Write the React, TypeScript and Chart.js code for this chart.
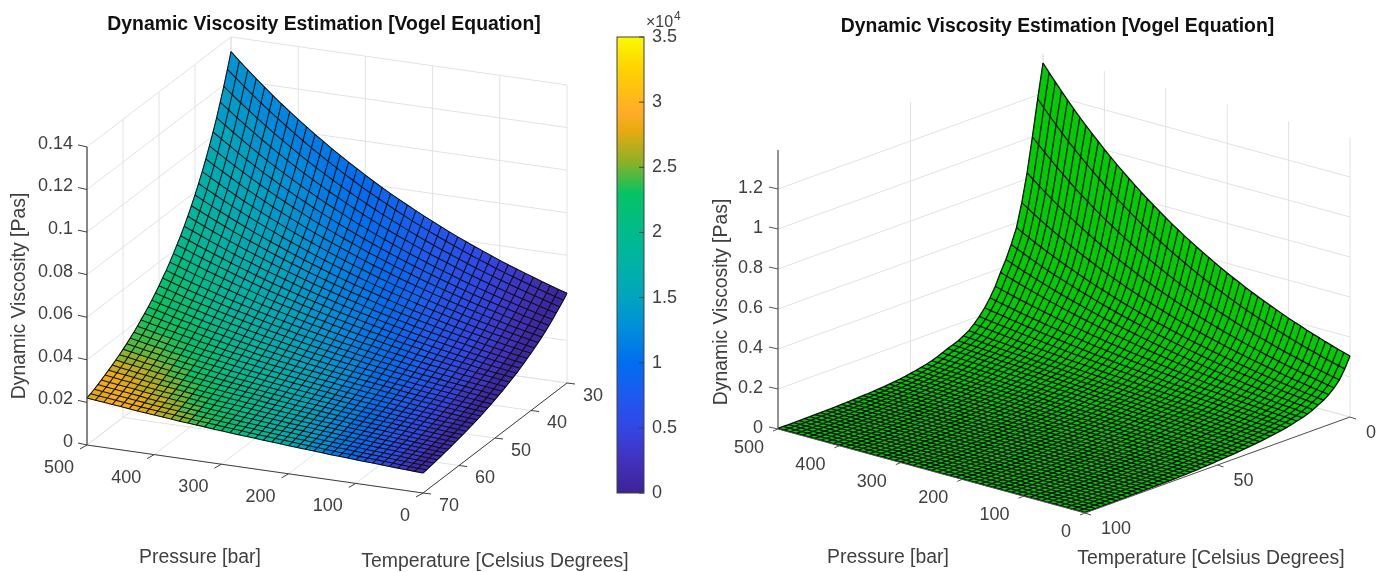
import React, { useEffect, useRef } from "react";
import { Chart, registerables } from "chart.js";
Chart.register(...registerables);

const titleText = "Dynamic Viscosity Estimation [Vogel Equation]";
const zAxisTitle = "Dynamic Viscosity [Pas]";
const pressureTitle = "Pressure [bar]";
const temperatureTitle = "Temperature [Celsius Degrees]";

const leftPressureTicks = [0, 100, 200, 300, 400, 500];
const leftTemperatureTicks = [30, 40, 50, 60, 70];
const leftZTicks = [0, 0.02, 0.04, 0.06, 0.08, 0.1, 0.12, 0.14];
const rightPressureTicks = [0, 100, 200, 300, 400, 500];
const rightTemperatureTicks = [0, 50, 100];
const rightZTicks = [0, 0.2, 0.4, 0.6, 0.8, 1, 1.2];
const colorbarTicks = [0, 0.5, 1, 1.5, 2, 2.5, 3, 3.5];

const leftPressures = [500,487.5,475,462.5,450,437.5,425,412.5,400,387.5,375,362.5,350,337.5,325,312.5,300,287.5,275,262.5,250,237.5,225,212.5,200,187.5,175,162.5,150,137.5,125,112.5,100,87.5,75,62.5,50,37.5,25,12.5,0];
const leftTemperatures = [30,31,32,33,34,35,36,37,38,39,40,41,42,43,44,45,46,47,48,49,50,51,52,53,54,55,56,57,58,59,60,61,62,63,64,65,66,67,68,69,70];
// viscosity in 1e-4 Pa·s: one row per temperature, one value per pressure
const leftViscosity = [
[1331,1293,1257,1221,1187,1153,1120,1089,1058,1028,999,971,943,917,891,866,841,817,794,771,750,729,708,688,669,650,631,613,596,579,563,547,531,516,502,488,474,460,447,434,422],
[1261,1226,1192,1158,1126,1094,1063,1034,1004,976,948,922,896,871,846,823,799,777,755,734,713,693,673,654,636,618,601,584,567,551,536,521,506,492,478,465,452,439,426,414,402],
[1194,1161,1128,1097,1066,1036,1007,979,952,925,899,874,850,826,803,781,759,738,717,697,678,659,640,622,605,588,572,556,540,525,510,496,482,469,456,443,431,419,407,395,384],
[1133,1102,1071,1041,1012,984,956,930,904,879,854,831,808,785,764,743,722,702,682,663,645,627,610,593,576,560,545,530,515,500,486,473,460,447,435,423,411,400,388,377,367],
[1072,1043,1014,986,959,932,906,881,857,833,810,788,766,745,725,705,685,666,648,630,613,596,579,563,548,533,518,504,490,476,463,450,438,426,414,403,392,381,370,360,350],
[1018,991,964,937,911,886,861,838,815,792,771,750,729,709,690,671,653,635,617,600,584,568,552,537,523,508,494,481,468,455,442,430,418,407,396,385,374,364,354,344,335],
[966,940,914,889,865,841,818,796,774,753,733,713,693,674,656,638,621,604,587,571,556,541,526,512,498,484,471,458,446,434,422,410,399,388,378,367,357,347,338,329,320],
[917,893,869,846,823,800,779,758,737,717,698,679,660,642,625,608,592,576,560,545,530,516,502,488,475,462,450,437,426,414,403,392,381,371,361,351,342,332,323,315,306],
[871,848,825,803,781,760,740,720,701,682,663,645,628,611,595,579,563,548,533,519,505,491,478,465,453,441,429,417,406,395,385,374,364,354,345,336,327,318,309,301,293],
[828,806,785,764,744,724,705,686,668,650,632,615,599,583,567,552,537,523,509,495,482,469,457,444,433,421,410,399,388,378,368,358,348,339,330,321,313,304,296,288,281],
[787,766,746,726,707,688,670,652,635,618,602,586,570,555,540,526,512,498,485,472,460,448,436,424,413,402,391,381,371,361,351,342,333,324,316,307,299,291,283,276,269],
[749,730,711,692,674,656,639,622,606,590,574,559,544,530,516,502,489,476,464,451,440,428,417,405,395,384,374,364,355,345,336,327,319,310,302,294,286,279,271,264,258],
[713,694,676,658,641,624,608,592,577,562,547,533,519,505,492,479,467,455,443,431,420,409,398,387,377,367,358,348,339,330,322,313,305,297,289,281,274,267,260,253,247],
[679,662,645,628,612,596,580,565,551,536,522,509,496,483,470,458,446,435,423,412,402,391,381,371,361,352,343,333,325,316,308,300,292,285,277,270,263,256,249,243,237],
[647,630,614,598,583,568,553,539,525,511,498,485,473,461,449,437,426,415,404,394,384,374,364,355,346,337,328,319,311,303,295,287,280,273,266,259,252,245,239,233,227],
[618,602,586,571,557,543,529,515,502,489,476,464,452,441,430,418,408,397,387,377,368,358,349,340,332,323,315,306,299,291,283,276,269,262,256,249,242,236,230,224,219],
[589,574,559,545,531,518,505,492,479,467,455,443,432,421,411,400,390,380,371,361,352,343,334,326,318,310,302,294,287,279,272,265,259,252,246,239,233,227,222,216,211],
[562,548,534,520,507,495,482,470,458,446,435,424,413,403,393,383,373,364,355,346,337,329,320,312,305,297,289,282,275,267,261,254,248,242,236,229,224,218,213,207,202],
[536,522,509,496,484,472,460,448,437,426,416,405,395,385,376,366,357,348,340,331,323,315,307,299,292,284,277,270,263,256,250,244,238,232,226,220,215,210,205,199,194],
[513,500,487,475,463,452,441,429,419,408,399,388,379,369,360,351,342,334,326,317,310,302,295,287,280,273,266,260,253,246,240,234,229,223,217,212,207,202,197,191,187],
[490,478,466,454,443,432,422,411,401,391,382,372,363,354,345,337,328,320,312,304,297,290,283,276,269,262,256,250,243,237,231,225,220,214,209,204,199,194,189,184,180],
[469,457,446,435,424,414,404,394,384,375,366,356,348,339,331,323,315,307,299,292,285,278,271,265,258,252,246,240,233,228,222,216,211,206,201,196,191,186,182,177,173],
[448,437,426,416,406,396,386,377,368,359,350,341,333,325,317,310,302,295,287,280,273,266,260,254,248,242,236,230,224,219,214,208,203,198,194,189,184,179,175,171,167],
[429,419,409,399,389,380,370,361,353,344,336,327,320,312,304,297,290,283,276,269,263,256,250,244,238,232,227,221,216,211,206,200,196,191,187,182,177,173,169,165,161],
[411,401,392,382,373,364,355,346,338,330,322,314,307,299,292,285,278,272,265,259,253,247,241,235,229,223,218,213,208,203,198,193,189,184,180,175,171,167,163,159,155],
[394,384,375,366,358,349,341,332,324,317,309,302,295,287,281,274,267,261,255,249,243,237,232,226,220,215,210,205,200,195,191,186,182,177,173,169,165,161,157,153,150],
[377,368,359,351,343,335,327,319,311,304,297,290,283,276,270,263,257,251,245,240,234,228,223,217,212,207,202,197,193,188,184,179,175,171,167,163,159,155,152,148,145],
[362,353,345,337,329,321,314,306,299,292,285,278,272,265,259,253,247,241,236,230,225,219,214,209,204,199,195,190,186,181,177,173,169,165,161,157,153,150,147,143,140],
[347,339,331,323,316,308,301,294,287,280,274,267,261,255,249,244,238,232,227,221,216,211,206,201,197,192,188,183,179,175,171,167,163,159,156,152,148,145,142,138,135],
[333,326,318,311,304,296,290,283,276,270,264,257,251,245,240,235,229,224,219,213,208,203,199,194,190,186,181,177,173,169,165,161,158,154,151,147,143,140,137,134,131],
[320,313,306,299,292,285,279,272,266,260,254,248,242,236,231,226,221,216,211,206,201,196,192,188,184,180,175,171,167,163,160,156,153,149,146,142,139,136,133,130,127],
[308,301,294,287,281,274,268,262,256,250,245,239,233,228,223,218,213,208,203,199,194,189,185,181,177,173,169,165,161,157,154,151,148,144,141,137,134,131,128,125,123],
[296,289,283,276,270,264,258,252,247,241,236,230,225,220,215,210,206,201,196,192,188,183,179,175,171,167,164,160,156,152,149,146,143,139,136,133,130,127,124,121,119],
[285,278,272,266,260,254,248,243,238,232,227,222,217,212,207,203,198,194,189,185,181,177,173,169,165,161,158,155,151,147,144,141,138,135,132,129,126,123,120,117,115],
[274,268,262,256,250,244,239,234,229,224,219,214,209,204,200,196,191,187,183,179,175,171,167,163,160,156,153,150,146,143,140,137,134,131,128,125,122,119,117,114,112],
[264,258,252,247,241,235,230,225,221,216,211,206,202,197,193,189,184,180,177,173,169,165,161,158,155,151,148,145,141,138,135,132,129,126,124,121,118,115,113,110,108],
[254,248,243,238,233,227,222,217,213,208,204,199,195,190,186,182,178,174,171,167,163,159,156,153,150,146,143,140,137,134,131,128,125,122,120,117,115,112,110,107,105],
[245,239,234,229,224,219,214,209,205,201,197,192,188,184,180,176,172,168,165,161,158,154,151,148,145,141,138,135,132,129,127,124,121,118,116,113,111,108,106,104,102],
[236,231,226,221,216,211,207,202,198,194,190,186,182,178,174,170,167,163,160,156,153,149,146,143,140,137,134,131,128,125,123,120,118,115,113,110,108,105,103,101,99],
[228,223,219,214,209,204,200,196,192,188,184,180,176,172,169,165,162,158,155,151,148,145,142,139,136,133,130,127,124,121,119,117,114,112,110,107,105,102,100,98,96],
[221,216,212,207,203,198,194,190,186,182,178,174,171,167,164,160,157,153,150,147,144,141,138,135,132,129,127,124,121,118,116,114,111,109,107,104,102,100,98,96,94],
];
// colour value in 1e2 units, one block per two mesh cells in each direction
const leftColorValue = [
[130,126,122,118,114,110,105,100,95,90,84,78,72,65,58,50,42,33,23,12,2],
[140,135,131,126,122,117,112,106,101,95,89,83,76,69,62,53,44,35,24,13,2],
[149,144,140,134,129,124,118,112,106,100,94,87,81,73,65,56,47,37,26,14,2],
[159,154,148,143,137,131,125,118,112,106,99,92,85,77,69,59,49,39,27,14,2],
[168,163,157,151,144,138,131,124,117,111,104,97,89,81,72,62,52,41,29,15,2],
[178,172,166,159,152,145,138,130,123,116,109,102,94,85,76,65,54,43,30,16,2],
[187,181,175,167,160,152,144,136,128,121,114,106,98,89,79,68,56,44,31,17,2],
[197,190,184,175,167,159,151,142,134,126,119,111,102,93,83,71,59,46,33,18,2],
[206,200,192,184,175,166,157,148,139,132,124,116,106,97,86,74,61,48,34,18,2],
[216,209,201,192,182,173,164,154,145,137,129,120,111,101,90,77,64,50,36,19,2],
[225,218,210,200,190,180,170,160,150,142,134,125,115,105,93,80,66,52,37,20,2],
[229,225,218,209,199,188,178,168,158,149,140,130,120,109,96,83,68,53,38,21,2],
[232,231,226,217,207,196,186,176,165,156,146,136,124,112,99,85,70,55,39,21,2],
[236,238,234,226,216,205,194,183,173,163,152,141,129,116,102,88,72,56,39,22,2],
[239,245,242,234,224,213,202,191,180,170,158,147,133,120,105,90,74,57,40,22,2],
[243,252,250,243,233,221,210,199,188,177,165,152,138,123,108,93,76,59,41,23,3],
[264,262,260,250,240,229,218,207,195,184,171,157,142,127,111,95,78,60,42,23,3],
[280,273,268,259,250,238,226,215,203,191,177,162,147,131,114,98,79,61,43,24,3],
[290,283,276,268,258,246,234,222,210,198,183,168,151,134,116,100,81,62,43,24,3],
[278,288,284,277,267,254,242,230,218,205,189,173,156,138,119,103,83,64,44,25,3],
[260,285,290,285,275,262,250,238,225,212,195,178,160,142,122,105,85,65,45,25,3],
];

const rightPressures = [500,490,480,470,460,450,440,430,420,410,400,390,380,370,360,350,340,330,320,310,300,290,280,270,260,250,240,230,220,210,200,190,180,170,160,150,140,130,120,110,100,90,80,70,60,50,40,30,20,10,0];
const rightTemperatures = [0,2,4,6,8,10,12,14,16,18,20,22,24,26,28,30,32,34,36,38,40,42,44,46,48,50,52,54,56,58,60,62,64,66,68,70,72,74,76,78,80,82,84,86,88,90,92,94,96,98,100];
// viscosity in 1e-3 Pa·s: one row per temperature, one value per pressure
const rightViscosity = [
[1350,1310,1272,1235,1198,1163,1129,1096,1064,1033,1002,973,944,917,890,864,838,814,790,767,744,722,701,680,661,641,622,604,586,569,552,536,521,505,490,476,462,449,435,423,410,398,387,375,364,354,343,333,323,314,305],
[1180,1144,1109,1075,1042,1010,979,949,920,892,865,838,813,788,764,741,718,696,675,654,634,615,596,578,560,543,526,510,494,479,465,450,437,423,410,398,386,374,362,351,341,330,320,310,301,292,283,274,266,258,250],
[1000,969,939,910,881,854,827,801,776,752,728,706,684,663,642,622,602,583,565,548,531,514,498,482,467,453,439,425,412,399,386,374,363,351,340,330,319,309,300,290,281,272,264,256,248,240,232,225,218,211,205],
[830,805,780,756,733,710,688,667,647,627,608,589,571,554,537,520,504,489,474,459,445,432,418,406,393,381,369,358,347,336,326,316,306,297,288,279,270,262,254,246,239,231,224,217,211,204,198,192,186,180,175],
[690,670,649,630,611,593,575,558,541,525,509,494,479,464,450,437,424,411,399,387,375,364,353,342,332,322,312,303,294,285,276,268,260,252,245,237,230,223,217,210,204,198,192,186,180,175,170,164,159,155,150],
[575,558,542,526,511,496,482,468,454,441,428,416,404,392,381,370,359,349,338,329,319,310,301,292,284,276,268,260,252,245,238,231,224,218,211,205,199,194,188,183,177,172,167,162,158,153,149,144,140,136,132],
[500,486,472,458,445,432,420,408,397,386,375,364,354,344,334,324,315,306,297,289,281,273,265,257,250,243,236,229,223,216,210,204,198,192,187,182,177,172,167,163,158,153,149,145,140,136,133,129,125,122,118],
[435,423,411,399,388,377,366,356,346,336,327,318,309,300,292,283,275,268,260,253,246,239,232,226,219,213,207,201,195,190,184,179,174,169,164,160,155,151,147,142,138,134,131,127,123,120,117,113,110,107,104],
[380,369,359,349,339,330,321,312,303,295,286,278,271,263,256,249,242,235,228,222,216,210,204,198,193,187,182,177,172,167,163,158,154,149,145,141,137,133,130,126,122,119,116,112,109,106,103,101,98,95,92],
[320,311,303,295,287,280,272,265,258,251,244,238,231,225,219,213,207,202,196,191,186,181,176,172,167,163,158,154,150,146,142,138,134,131,127,124,121,118,115,111,108,106,103,100,97,95,92,90,87,85,83],
[272,265,258,252,245,239,233,227,221,215,210,205,199,194,190,185,180,175,171,167,163,159,155,151,147,144,140,136,133,130,127,123,120,117,114,111,109,106,103,101,98,96,93,91,89,86,84,82,80,78,76],
[232,226,221,216,210,205,200,195,191,186,182,177,173,169,165,161,157,153,149,146,142,139,135,132,129,126,123,120,117,114,111,108,106,103,101,98,96,93,91,89,87,85,83,81,79,77,75,73,71,70,68],
[198,193,189,185,181,177,173,169,165,161,158,154,151,147,144,141,138,135,132,129,126,123,120,117,115,112,110,107,105,103,100,98,96,94,92,90,88,86,84,82,80,78,76,75,73,71,70,68,66,64,62],
[170,166,163,159,156,152,149,146,143,140,137,134,131,128,125,122,120,117,115,112,110,107,105,103,101,98,96,94,92,90,88,86,84,83,81,79,77,76,74,73,71,69,68,67,65,64,62,61,60,58,57],
[146,143,140,137,134,132,129,126,124,121,119,116,114,112,110,107,105,103,101,99,97,95,93,91,89,87,86,84,82,81,79,77,76,74,73,71,70,68,67,65,64,63,61,60,59,58,57,55,54,53,52],
[130,127,125,122,120,118,115,113,111,109,107,104,102,100,98,97,95,93,91,89,87,86,84,82,81,79,78,76,75,73,72,70,69,67,66,65,63,62,61,60,58,57,56,55,54,53,52,51,50,49,48],
[115,113,111,109,107,105,103,101,99,97,95,94,92,90,88,87,85,84,82,81,79,77,76,75,73,72,71,69,68,67,65,64,63,62,61,59,58,57,56,55,54,53,52,51,50,49,48,47,46,45,44],
[104,102,100,98,96,95,93,91,89,88,86,85,83,81,80,78,77,75,74,73,71,70,69,67,66,65,64,62,61,60,59,58,57,56,55,54,53,52,51,50,49,48,47,46,45,44,44,43,42,41,40],
[95,93,91,90,88,86,85,83,82,80,79,77,76,74,73,72,70,69,68,66,65,64,63,62,60,59,58,57,56,55,54,53,52,51,50,49,48,47,46,45,44,44,43,42,41,40,40,39,38,38,37],
[83,82,80,79,77,76,75,73,72,71,70,68,67,66,65,64,63,62,61,59,58,57,57,56,55,54,53,52,51,50,49,48,48,47,46,45,44,44,43,42,41,41,40,39,39,38,37,37,36,35,34],
[72,71,70,69,67,66,65,64,63,62,61,60,59,58,57,56,55,54,53,52,52,51,50,49,48,47,46,46,45,44,43,43,42,41,41,40,39,39,38,37,37,36,35,35,34,34,33,33,32,32,31],
[63,62,61,60,59,58,57,57,56,55,54,53,52,52,51,50,49,49,48,47,46,46,45,44,44,43,42,42,41,41,40,39,39,38,38,37,37,36,35,35,34,34,33,33,32,32,31,31,30,29,28],
[55,54,53,53,52,51,50,49,49,48,47,46,46,45,44,44,43,42,42,41,40,40,39,38,38,37,37,36,36,35,34,34,33,33,32,32,31,31,30,30,29,29,29,28,28,27,27,27,27,26,26],
[49,48,47,47,46,45,45,44,43,43,42,42,41,40,40,39,39,38,38,37,37,36,36,35,35,34,34,33,33,32,32,31,31,30,30,30,29,29,28,28,28,27,27,27,26,26,26,25,25,24,24],
[43,42,42,41,41,40,39,39,38,38,37,37,36,36,35,35,34,34,33,33,32,32,31,31,31,30,30,29,29,28,28,28,27,27,26,26,26,25,25,25,25,24,24,24,23,23,23,22,22,22,22],
[38,37,37,36,36,35,35,35,34,34,33,33,32,32,32,31,31,30,30,30,29,29,28,28,28,27,27,27,26,26,26,25,25,25,24,24,24,23,23,23,23,22,22,22,21,21,21,21,20,20,20],
[33,33,32,32,31,31,31,30,30,29,29,29,28,28,28,27,27,27,26,26,26,25,25,25,24,24,24,23,23,23,22,22,22,21,21,21,21,20,20,20,20,19,19,19,19,18,18,18,18,18,18],
[29,29,28,28,28,27,27,27,26,26,26,25,25,25,25,24,24,24,23,23,23,23,22,22,22,21,21,21,21,20,20,20,20,19,19,19,19,18,18,18,18,18,17,17,17,17,17,16,16,16,16],
[26,26,25,25,25,25,24,24,24,23,23,23,23,22,22,22,22,21,21,21,21,20,20,20,20,19,19,19,19,18,18,18,18,18,17,17,17,17,17,16,16,16,16,16,16,15,15,15,15,15,15],
[23,23,22,22,22,22,21,21,21,21,20,20,20,20,19,19,19,19,19,18,18,18,18,18,17,17,17,17,16,16,16,16,16,15,15,15,15,15,15,14,14,14,14,14,14,14,13,13,13,13,13],
[20,20,20,19,19,19,19,19,18,18,18,18,18,17,17,17,17,17,17,16,16,16,16,16,15,15,15,15,15,15,14,14,14,14,14,14,13,13,13,13,13,13,13,12,12,12,12,12,12,12,12],
[18,18,18,17,17,17,17,17,16,16,16,16,16,16,15,15,15,15,15,15,14,14,14,14,14,14,14,13,13,13,13,13,13,13,13,12,12,12,12,12,12,12,12,12,11,11,11,11,11,11,11],
[16,16,16,16,15,15,15,15,15,15,14,14,14,14,14,14,14,13,13,13,13,13,13,13,13,12,12,12,12,12,12,12,12,11,11,11,11,11,11,11,11,11,11,10,10,10,10,10,10,10,10],
[14,14,14,14,14,14,14,13,13,13,13,13,13,13,13,12,12,12,12,12,12,12,12,11,11,11,11,11,11,11,11,11,11,11,10,10,10,10,10,10,10,10,10,10,10,9,9,9,9,9,9],
[13,13,13,13,12,12,12,12,12,12,12,12,12,11,11,11,11,11,11,11,11,11,11,10,10,10,10,10,10,10,10,10,10,10,9,9,9,9,9,9,9,9,9,9,9,8,8,8,8,8,8],
[12,12,12,12,12,11,11,11,11,11,11,11,11,11,11,11,11,10,10,10,10,10,10,10,10,10,10,10,10,10,9,9,9,9,9,9,9,9,9,9,9,9,9,8,8,8,8,8,8,8,8],
[10,10,10,10,10,10,10,10,10,10,10,10,9,9,9,9,9,9,9,9,9,9,9,9,9,9,8,8,8,8,8,8,8,8,8,8,8,8,8,8,8,8,8,7,7,7,7,7,7,7,7],
[9,9,9,9,9,9,9,9,9,9,9,9,9,9,9,9,9,8,8,8,8,8,8,8,8,8,8,8,8,8,8,8,8,8,8,8,8,8,7,7,7,7,7,7,7,7,7,7,7,7,7],
[8,8,8,8,8,8,8,8,8,8,8,8,8,8,8,8,7,7,7,7,7,7,7,7,7,7,7,7,7,7,7,7,7,7,7,7,7,7,6,6,6,6,6,6,6,6,6,6,6,6,6],
[7,7,7,7,7,7,7,7,7,7,7,7,7,7,7,7,7,7,7,7,7,7,7,7,7,7,6,6,6,6,6,6,6,6,6,6,6,6,6,6,6,6,6,6,6,6,6,6,6,6,6],
[6,6,6,6,6,6,6,6,6,6,6,6,6,6,6,6,6,6,6,6,6,6,6,6,6,6,6,6,5,5,5,5,5,5,5,5,5,5,5,5,5,5,5,5,5,5,5,5,5,5,5],
[6,6,6,6,6,6,6,6,6,6,6,6,6,6,6,6,6,5,5,5,5,5,5,5,5,5,5,5,5,5,5,5,5,5,5,5,5,5,5,5,5,5,5,5,5,5,5,5,5,5,5],
[5,5,5,5,5,5,5,5,5,5,5,5,5,5,5,5,5,5,5,5,5,5,5,5,5,4,4,4,4,4,4,4,4,4,4,4,4,4,4,4,4,4,4,4,4,4,4,4,4,4,4],
[5,5,5,5,5,5,5,5,5,5,4,4,4,4,4,4,4,4,4,4,4,4,4,4,4,4,4,4,4,4,4,4,4,4,4,4,4,4,4,4,4,4,4,4,4,4,4,4,4,4,4],
[4,4,4,4,4,4,4,4,4,4,4,4,4,4,4,4,4,4,4,4,4,4,4,4,4,4,4,4,4,4,4,4,4,4,4,4,4,4,4,4,4,4,4,4,4,4,4,4,4,4,4],
[4,4,4,4,4,4,4,4,4,4,4,4,4,4,4,4,4,4,4,4,4,4,4,4,4,4,4,4,4,4,4,4,4,4,4,4,4,4,3,3,3,3,3,3,3,3,3,3,3,3,3],
[3,3,3,3,3,3,3,3,3,3,3,3,3,3,3,3,3,3,3,3,3,3,3,3,3,3,3,3,3,3,3,3,3,3,3,3,3,3,3,3,3,3,3,3,3,3,3,3,3,3,3],
[3,3,3,3,3,3,3,3,3,3,3,3,3,3,3,3,3,3,3,3,3,3,3,3,3,3,3,3,3,3,3,3,3,3,3,3,3,3,3,3,3,3,3,3,3,3,3,3,3,3,3],
[3,3,3,3,3,3,3,3,3,3,3,3,3,3,3,3,3,3,3,3,3,3,3,3,3,3,3,3,3,3,3,3,3,3,3,3,3,3,3,3,3,3,3,3,3,3,3,3,3,3,3],
[3,3,3,3,3,3,3,3,3,3,3,3,3,3,3,3,3,3,3,3,3,3,3,3,3,3,3,3,3,3,3,3,3,3,3,3,3,3,3,3,3,3,3,3,3,3,3,3,3,3,3],
[3,3,3,3,3,3,3,3,3,3,3,3,3,3,3,3,3,3,3,3,3,3,3,3,3,3,3,3,3,3,3,3,3,3,3,3,3,3,3,3,3,3,3,3,3,3,3,3,3,3,3],
];

const colorStopValues = [0,0.25,0.5,0.75,1,1.25,1.5,1.75,2,2.3,2.56,2.79,2.92,3.25,3.5];
const colorStopRGB = [[60,35,150],[65,50,190],[50,70,230],[30,90,240],[0,110,240],[0,140,220],[0,165,190],[0,178,165],[0,187,140],[5,195,100],[150,175,35],[235,170,15],[255,172,40],[255,210,0],[250,250,0]];

const FONT = "'Liberation Sans', Arial, sans-serif";
const TEXT = "#404040";
const TITLE_BOX = 36;
const TITLE_SIZE = 19.4;

function colorOf(v: number) {
  let i = 0;
  while (i < colorStopValues.length - 2 && v > colorStopValues[i + 1]) i++;
  const a = colorStopValues[i], b = colorStopValues[i + 1];
  const f = Math.max(0, Math.min(1, (v - a) / (b - a)));
  const c = colorStopRGB[i].map((x, k) => Math.round(x + (colorStopRGB[i + 1][k] - x) * f));
  return `rgb(${c[0]},${c[1]},${c[2]})`;
}

type View = {
  xMin: number; xMax: number; ox: number; oy: number; px: number; py: number; tx: number; ty: number;
  tFront: number; tBack: number; pMax: number; zs: number; zMax: number;
  pressureTicks: number[]; temperatureTicks: number[]; zTicks: number[];
  pressures: number[]; temperatures: number[]; viscosity: number[][]; unit: number;
  colors?: number[][]; flat?: string; mesh: number; block: number;
  pTick: number[]; tTick: number[]; zTick: number[];
  pLabel: number[]; tLabel: number[]; zLabel: number[];
  zTitle: number[]; pTitle: number[]; tTitle: number[];
  titleTop: number; axis: string;
};

const leftView: View = {
  xMin: 0, xMax: 648, ox: 423, oy: 493, px: -0.672, py: -0.096, tx: 3.6, ty: -2.75,
  tFront: 70, tBack: 30, pMax: 500, zs: 2129, zMax: 0.14,
  pressureTicks: leftPressureTicks, temperatureTicks: leftTemperatureTicks, zTicks: leftZTicks,
  pressures: leftPressures, temperatures: leftTemperatures, viscosity: leftViscosity, unit: 1e-4,
  colors: leftColorValue, mesh: 1.05, block: 2,
  pTick: [-7, 4], tTick: [8, 1], zTick: [-9, -2],
  pLabel: [-13, 23], tLabel: [16, 13], zLabel: [-14, -3],
  zTitle: [20, 296], pTitle: [200, 558], tTitle: [495, 562], titleTop: 13.4, axis: "#404040",
};
const rightView: View = {
  xMin: 690, xMax: 1425, ox: 1085, oy: 513, px: -0.614, py: -0.168, tx: 2.65, ty: -0.96,
  tFront: 100, tBack: 0, pMax: 500, zs: 200, zMax: 1.395,
  pressureTicks: rightPressureTicks, temperatureTicks: rightTemperatureTicks, zTicks: rightZTicks,
  pressures: rightPressures, temperatures: rightTemperatures, viscosity: rightViscosity, unit: 1e-3,
  flat: "rgb(0,205,0)", mesh: 1.3, block: 50,
  pTick: [-5, 2], tTick: [6, 2], zTick: [-9, -2],
  pLabel: [-14, 19], tLabel: [16, 16], zLabel: [-15, -1],
  zTitle: [722, 302], pTitle: [888, 558], tTitle: [1211, 559], titleTop: 15.4, axis: "#555555",
};

function project(v: View, p: number, t: number, z: number) {
  const d = v.tFront - t;
  return { x: v.ox + p * v.px + d * v.tx, y: v.oy + p * v.py + d * v.ty - z * v.zs };
}

function lineSet(data: { x: number; y: number }[], color: string, width: number, order: number) {
  return { data, showLine: true, borderColor: color, borderWidth: width, pointRadius: 0, fill: false, order, clip: false, tension: 0 };
}

function buildDatasets(v: View) {
  const sets: any[] = [];
  const grid = "#e2e2e2";
  const at = (j: number, i: number) => project(v, v.pressures[i], v.temperatures[j], v.viscosity[j][i] * v.unit);
  v.zTicks.forEach((z) => {
    sets.push(lineSet([project(v, v.pMax, v.tFront, z), project(v, v.pMax, v.tBack, z), project(v, 0, v.tBack, z)], grid, 1, 1000));
  });
  v.temperatureTicks.forEach((t) => {
    sets.push(lineSet([project(v, 0, t, 0), project(v, v.pMax, t, 0), project(v, v.pMax, t, v.zMax)], grid, 1, 1000));
  });
  v.pressureTicks.forEach((p) => {
    sets.push(lineSet([project(v, p, v.tFront, 0), project(v, p, v.tBack, 0), project(v, p, v.tBack, v.zMax)], grid, 1, 1000));
  });
  // surface patches: each is the outline of a block of mesh cells
  const b = v.block;
  for (let j = 0; j + b < v.temperatures.length; j += b) {
    for (let i = 0; i + b < v.pressures.length; i += b) {
      const pts: { x: number; y: number }[] = [];
      for (let k = 0; k < b; k++) pts.push(at(j, i + k));
      for (let k = 0; k < b; k++) pts.push(at(j + k, i + b));
      for (let k = b; k > 0; k--) pts.push(at(j + b, i + k));
      for (let k = b; k > 0; k--) pts.push(at(j + k, i));
      pts.push(pts[0]);
      const tbl = v.colors;
      const J = j / b, I = i / b;
      const color = tbl
        ? colorOf((tbl[J][I] + tbl[J][I + 1] + tbl[J + 1][I + 1] + tbl[J + 1][I]) / 400)
        : (v.flat as string);
      sets.push({ data: pts, showLine: true, fill: "shape", backgroundColor: color, borderColor: color, borderWidth: 0.4, pointRadius: 0, order: 500, clip: false, tension: 0 });
    }
  }
  v.temperatures.forEach((t, j) => {
    sets.push(lineSet(v.pressures.map((p, i) => at(j, i)), "#0a0f0a", v.mesh, 10));
  });
  v.pressures.forEach((p, i) => {
    sets.push(lineSet(v.temperatures.map((t, j) => at(j, i)), "#0a0f0a", v.mesh, 10));
  });
  sets.push(lineSet([project(v, v.pMax, v.tFront, 0), project(v, 0, v.tFront, 0), project(v, 0, v.tBack, 0)], v.axis, 1, 5));
  sets.push(lineSet([project(v, v.pMax, v.tFront, 0), project(v, v.pMax, v.tFront, v.zMax)], v.axis, 1.2, 5));
  v.pressureTicks.forEach((p) => {
    const a = project(v, p, v.tFront, 0);
    sets.push(lineSet([a, { x: a.x + v.pTick[0], y: a.y + v.pTick[1] }], v.axis, 1, 5));
  });
  v.temperatureTicks.forEach((t) => {
    const a = project(v, 0, t, 0);
    sets.push(lineSet([a, { x: a.x + v.tTick[0], y: a.y + v.tTick[1] }], v.axis, 1, 5));
  });
  v.zTicks.forEach((z) => {
    const a = project(v, v.pMax, v.tFront, z);
    sets.push(lineSet([a, { x: a.x + v.zTick[0], y: a.y + v.zTick[1] }], v.axis, 1, 5));
  });
  return sets;
}

function labelPlugin(v: View) {
  return {
    id: "axisText",
    afterDatasetsDraw(chart: any) {
      const { ctx, scales } = chart;
      const X = (x: number) => scales.x.getPixelForValue(x);
      const Y = (y: number) => scales.y.getPixelForValue(y);
      ctx.save();
      ctx.fillStyle = TEXT;
      ctx.textBaseline = "middle";
      ctx.font = `18px ${FONT}`;
      ctx.textAlign = "right";
      v.pressureTicks.forEach((p) => {
        const a = project(v, p, v.tFront, 0);
        ctx.fillText(String(p), X(a.x + v.pLabel[0]), Y(a.y + v.pLabel[1]));
      });
      v.zTicks.forEach((z) => {
        const a = project(v, v.pMax, v.tFront, z);
        ctx.fillText(String(z), X(a.x + v.zLabel[0]), Y(a.y + v.zLabel[1]));
      });
      ctx.textAlign = "left";
      v.temperatureTicks.forEach((t) => {
        const a = project(v, 0, t, 0);
        ctx.fillText(String(t), X(a.x + v.tLabel[0]), Y(a.y + v.tLabel[1]));
      });
      ctx.textAlign = "center";
      ctx.font = `19.4px ${FONT}`;
      ctx.fillText(pressureTitle, X(v.pTitle[0]), Y(v.pTitle[1]));
      ctx.fillText(temperatureTitle, X(v.tTitle[0]), Y(v.tTitle[1]));
      ctx.translate(X(v.zTitle[0]), Y(v.zTitle[1]));
      ctx.rotate(-Math.PI / 2);
      ctx.fillText(zAxisTitle, 0, 0);
      ctx.restore();
    },
  };
}

function makePanel(canvas: HTMLCanvasElement, v: View) {
  return new Chart(canvas, {
    type: "scatter",
    data: { datasets: buildDatasets(v) },
    options: {
      animation: false,
      responsive: false,
      events: [],
      layout: { padding: 0 },
      plugins: {
        legend: { display: false },
        tooltip: { enabled: false },
        title: {
          display: true,
          text: titleText,
          color: "#111111",
          font: { family: FONT, size: TITLE_SIZE, weight: "bold", lineHeight: 1.2 },
          padding: { top: v.titleTop, bottom: TITLE_BOX - v.titleTop - TITLE_SIZE * 1.2 },
        },
      },
      scales: {
        x: { type: "linear", display: false, min: v.xMin, max: v.xMax },
        y: { type: "linear", display: false, reverse: true, min: TITLE_BOX, max: 572 },
      },
    },
    plugins: [labelPlugin(v)],
  } as any);
}

function makeColorbar(canvas: HTMLCanvasElement) {
  return new Chart(canvas, {
    type: "bar",
    data: {
      labels: ["colour"],
      datasets: [{
        data: [colorbarTicks[colorbarTicks.length - 1]],
        barPercentage: 1,
        categoryPercentage: 1,
        borderWidth: 0,
        backgroundColor: (c: any) => {
          const area = c.chart.chartArea;
          if (!area) return "#888";
          const g = c.chart.ctx.createLinearGradient(0, area.bottom, 0, area.top);
          colorStopValues.forEach((s, i) => {
            const rgb = colorStopRGB[i];
            g.addColorStop(s / 3.5, `rgb(${rgb[0]},${rgb[1]},${rgb[2]})`);
          });
          return g;
        },
      }],
    },
    options: {
      animation: false,
      responsive: false,
      events: [],
      layout: { padding: { left: 17, top: 37, bottom: 79, right: 0 } },
      plugins: { legend: { display: false }, tooltip: { enabled: false }, title: { display: false } },
      scales: {
        x: { display: false },
        y: {
          position: "right",
          min: 0,
          max: 3.5,
          afterFit: (s: any) => { s.width = 46; },
          afterBuildTicks: (s: any) => { s.ticks = colorbarTicks.map((value) => ({ value })); },
          grid: { display: false },
          border: { display: false },
          ticks: {
            color: TEXT,
            padding: 0,
            autoSkip: false,
            font: { family: FONT, size: 18 },
            callback: (val: any) => String(val),
          },
        },
      },
    },
    plugins: [{
      id: "colorbarFrame",
      afterDatasetsDraw(chart: any) {
        const { ctx, chartArea: a, scales } = chart;
        ctx.save();
        ctx.strokeStyle = "#404040";
        ctx.lineWidth = 1;
        ctx.strokeRect(a.left, a.top, a.right - a.left, a.bottom - a.top);
        colorbarTicks.forEach((t) => {
          const y = scales.y.getPixelForValue(t);
          ctx.beginPath();
          ctx.moveTo(a.right - 5, y);
          ctx.lineTo(a.right, y);
          ctx.stroke();
        });
        ctx.fillStyle = TEXT;
        ctx.textBaseline = "middle";
        ctx.textAlign = "left";
        ctx.font = `16px ${FONT}`;
        ctx.fillText("×10", a.right + 2, 23);
        ctx.font = `12px ${FONT}`;
        ctx.fillText("4", a.right + 30, 17);
        ctx.restore();
      },
    }],
  } as any);
}

export default function App() {
  const left = useRef<HTMLCanvasElement>(null);
  const bar = useRef<HTMLCanvasElement>(null);
  const right = useRef<HTMLCanvasElement>(null);
  useEffect(() => {
    const charts = [
      makePanel(left.current as HTMLCanvasElement, leftView),
      makePanel(right.current as HTMLCanvasElement, rightView),
      makeColorbar(bar.current as HTMLCanvasElement),
    ];
    return () => charts.forEach((c) => c.destroy());
  }, []);
  return (
    <div style={{ position: "fixed", left: 0, top: 0, width: 1386, height: 572, overflow: "hidden", background: "#fff" }}>
      <canvas ref={left} width={648} height={572} style={{ position: "absolute", left: 0, top: 0 }} />
      <canvas ref={right} width={735} height={572} style={{ position: "absolute", left: 690, top: 0 }} />
      <canvas ref={bar} width={90} height={572} style={{ position: "absolute", left: 600, top: 0 }} />
    </div>
  );
}
